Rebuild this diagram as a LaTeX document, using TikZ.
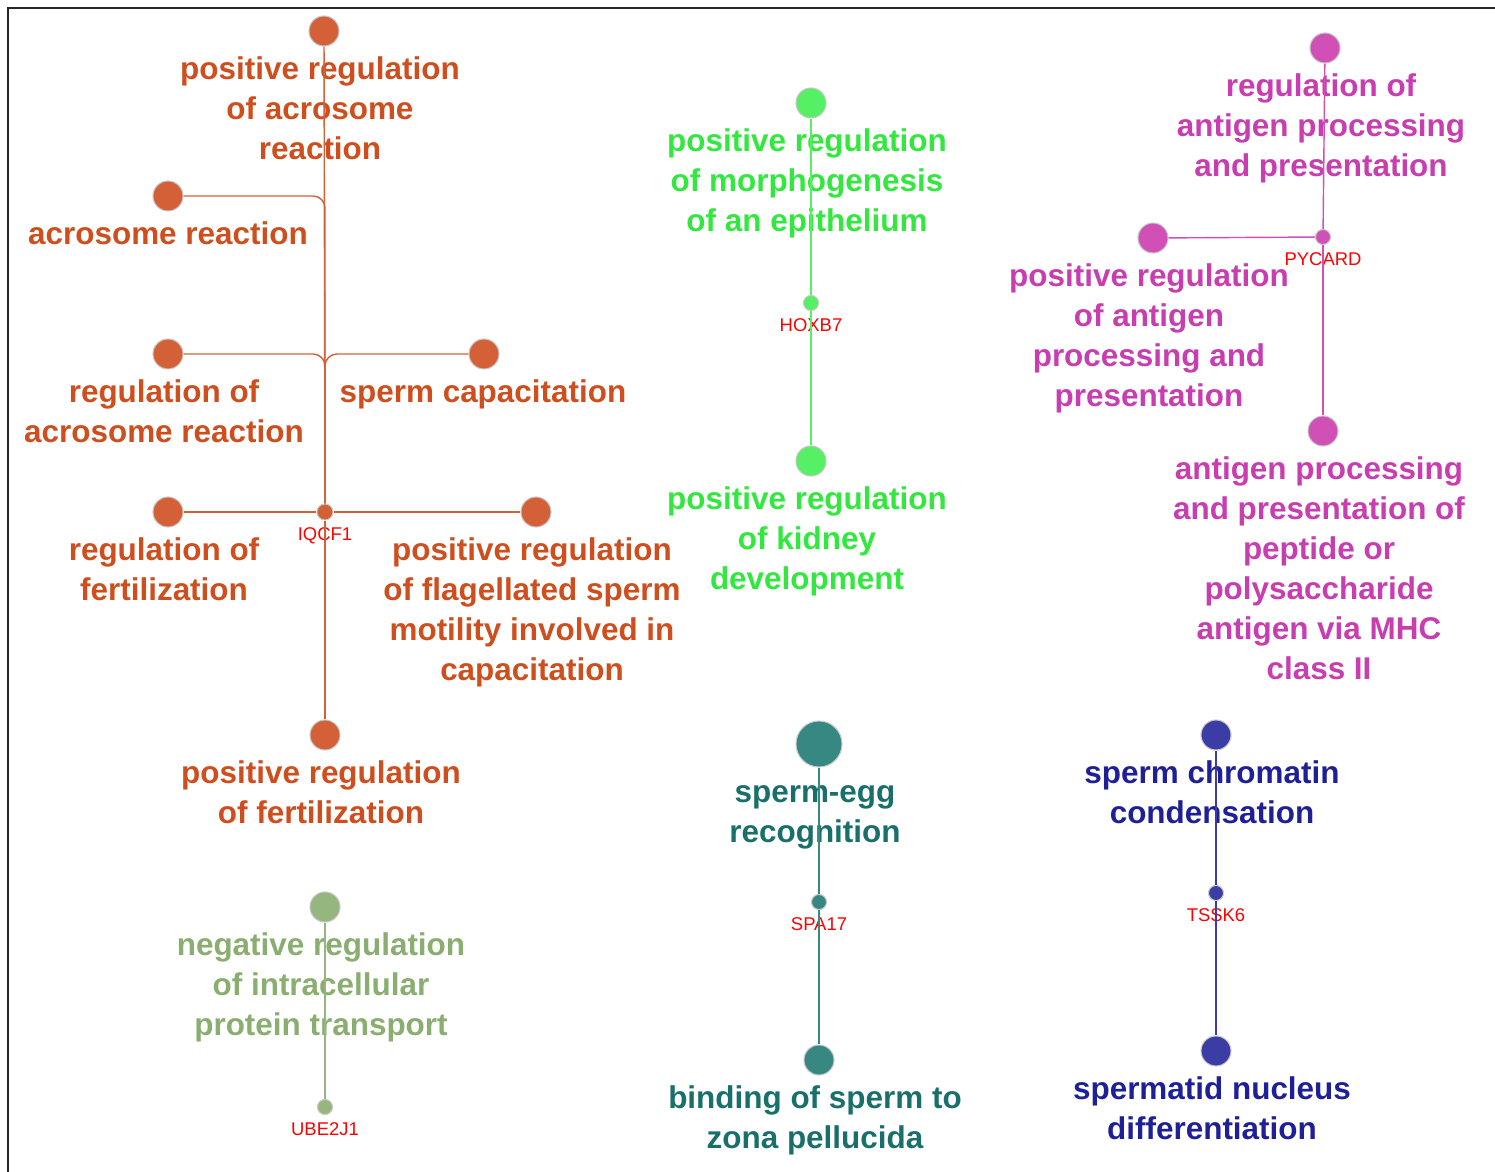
\documentclass[tikz,border=0pt]{standalone}
\usepackage{fontspec}
\setmainfont{Liberation Sans}
\usepackage{xcolor}
\usetikzlibrary{positioning}

\definecolor{fertN}{RGB}{212,96,56}
\definecolor{fertT}{RGB}{206,78,30}
\definecolor{epiN}{RGB}{85,240,100}
\definecolor{epiT}{RGB}{50,232,62}
\definecolor{antN}{RGB}{208,80,182}
\definecolor{antT}{RGB}{200,62,176}
\definecolor{transN}{RGB}{150,182,128}
\definecolor{transT}{RGB}{138,174,112}
\definecolor{zonaN}{RGB}{55,135,130}
\definecolor{zonaT}{RGB}{25,112,106}
\definecolor{nucN}{RGB}{60,60,165}
\definecolor{nucT}{RGB}{32,32,150}

\tikzstyle{goterm} = [
    circle, minimum size=0.6cm, inner sep=0pt,
    draw=gray!45, line width=0.6pt
]
\tikzstyle{bigterm} = [goterm, minimum size=0.92cm]
\tikzstyle{gene} = [
    circle, minimum size=0.3cm, inner sep=0pt,
    draw=gray!45, line width=0.6pt
]
\tikzstyle{term} = [
    align=center, inner sep=0pt, xshift=-0.08cm,
    font=\bfseries\fontsize{17.9}{22.8}\selectfont
]
\tikzstyle{genelabel} = [inner sep=0pt, text depth=0pt, text=red, font=\fontsize{10.5}{12}\selectfont]
\tikzstyle{link} = [line width=0.8pt]
\tikzstyle{frame} = [line width=1.1pt, color=black!85]

\begin{document}
\begin{tikzpicture}[x=0.02cm, y=-0.02cm, node distance=0.2cm]

    \useasboundingbox (0,0) rectangle (1495,1172);
    \draw[frame] (8,1172) -- (8,8) -- (1495,8);

    % IQCF1 cluster
    \node[gene, minimum size=0.32cm, fill=fertN] (iqcf1) at (325,512) {};
    \node[genelabel, below=0.14cm of iqcf1] (iqcf1l) {IQCF1};
    \node[goterm, fill=fertN] (pacr) at (324,31) {};
    \node[goterm, fill=fertN] (acr) at (168,196) {};
    \node[goterm, fill=fertN] (racr) at (168,354) {};
    \node[goterm, fill=fertN] (cap) at (484,354) {};
    \node[goterm, fill=fertN] (rfer) at (168,512) {};
    \node[goterm, fill=fertN] (flag) at (536,512) {};
    \node[goterm, fill=fertN] (pfer) at (325,735) {};

    \node[term, text=fertT, below=of pacr] (pacrt) {positive regulation\\of acrosome\\reaction};
    \node[term, text=fertT, below=of acr, xshift=0.08cm] (acrt) {acrosome reaction};
    \node[term, text=fertT, below=of racr] (racrt) {regulation of\\acrosome reaction};
    \node[term, text=fertT, below=of cap, xshift=0.06cm] (capt) {sperm capacitation};
    \node[term, text=fertT, below=of rfer] (rfert) {regulation of\\fertilization};
    \node[term, text=fertT, below=of flag] (flagt) {positive regulation\\of flagellated sperm\\motility involved in\\capacitation};
    \node[term, text=fertT, below=of pfer] (pfert) {positive regulation\\of fertilization};

    \draw[link, fertN] (iqcf1) -- (pacr);
    \draw[link, fertN, rounded corners=0.24cm] (iqcf1) |- (acr);
    \draw[link, fertN, rounded corners=0.24cm] (iqcf1) |- (racr);
    \draw[link, fertN, rounded corners=0.24cm] (iqcf1) |- (cap);
    \draw[link, fertN] (iqcf1) -- (rfer);
    \draw[link, fertN] (iqcf1) -- (flag);
    \draw[link, fertN] (iqcf1) -- (pfer);

    % HOXB7 cluster
    \node[gene, fill=epiN] (hoxb7) at (811,303) {};
    \node[genelabel, below=0.14cm of hoxb7] (hoxb7l) {HOXB7};
    \node[goterm, fill=epiN] (epi) at (811,103) {};
    \node[goterm, fill=epiN] (kid) at (811,461) {};
    \node[term, text=epiT, below=of epi] (epit) {positive regulation\\of morphogenesis\\of an epithelium};
    \node[term, text=epiT, below=of kid] (kidt) {positive regulation\\of kidney\\development};
    \draw[link, epiN] (hoxb7) -- (epi);
    \draw[link, epiN] (hoxb7) -- (kid);

    % PYCARD cluster
    \node[gene, fill=antN] (pycard) at (1323,237) {};
    \node[genelabel, below=0.14cm of pycard] (pycardl) {PYCARD};
    \node[goterm, fill=antN] (rant) at (1325,48) {};
    \node[goterm, fill=antN] (pant) at (1153,238) {};
    \node[goterm, fill=antN] (mhc) at (1323,431) {};
    \node[term, text=antT, below=of rant] (rantt) {regulation of\\antigen processing\\and presentation};
    \node[term, text=antT, below=of pant] (pantt) {positive regulation\\of antigen\\processing and\\presentation};
    \node[term, text=antT, below=of mhc] (mhct) {antigen processing\\and presentation of\\peptide or\\polysaccharide\\antigen via MHC\\class II};
    \draw[link, antN] (pycard) -- (rant);
    \draw[link, antN] (pycard) -- (pant);
    \draw[link, antN] (pycard) -- (mhc);

    % UBE2J1 cluster
    \node[gene, fill=transN] (ube2j1) at (325,1107) {};
    \node[genelabel, below=0.14cm of ube2j1] (ube2j1l) {UBE2J1};
    \node[goterm, fill=transN] (trans) at (325,907) {};
    \node[term, text=transT, below=of trans] (transt) {negative regulation\\of intracellular\\protein transport};
    \draw[link, transN] (ube2j1) -- (trans);

    % SPA17 cluster
    \node[gene, fill=zonaN] (spa17) at (819,902) {};
    \node[genelabel, below=0.14cm of spa17] (spa17l) {SPA17};
    \node[bigterm, fill=zonaN] (egg) at (819,744) {};
    \node[goterm, fill=zonaN] (zona) at (819,1060) {};
    \node[term, text=zonaT, below=0.36cm of egg] (eggt) {sperm-egg\\recognition};
    \node[term, text=zonaT, below=of zona] (zonat) {binding of sperm to\\zona pellucida};
    \draw[link, zonaN] (spa17) -- (egg);
    \draw[link, zonaN] (spa17) -- (zona);

    % TSSK6 cluster
    \node[gene, fill=nucN] (tssk6) at (1216,893) {};
    \node[genelabel, below=0.14cm of tssk6] (tssk6l) {TSSK6};
    \node[goterm, fill=nucN] (chrom) at (1216,735) {};
    \node[goterm, fill=nucN] (nuc) at (1216,1051) {};
    \node[term, text=nucT, below=of chrom] (chromt) {sperm chromatin\\condensation};
    \node[term, text=nucT, below=of nuc] (nuct) {spermatid nucleus\\differentiation};
    \draw[link, nucN] (tssk6) -- (chrom);
    \draw[link, nucN] (tssk6) -- (nuc);

\end{tikzpicture}
\end{document}
